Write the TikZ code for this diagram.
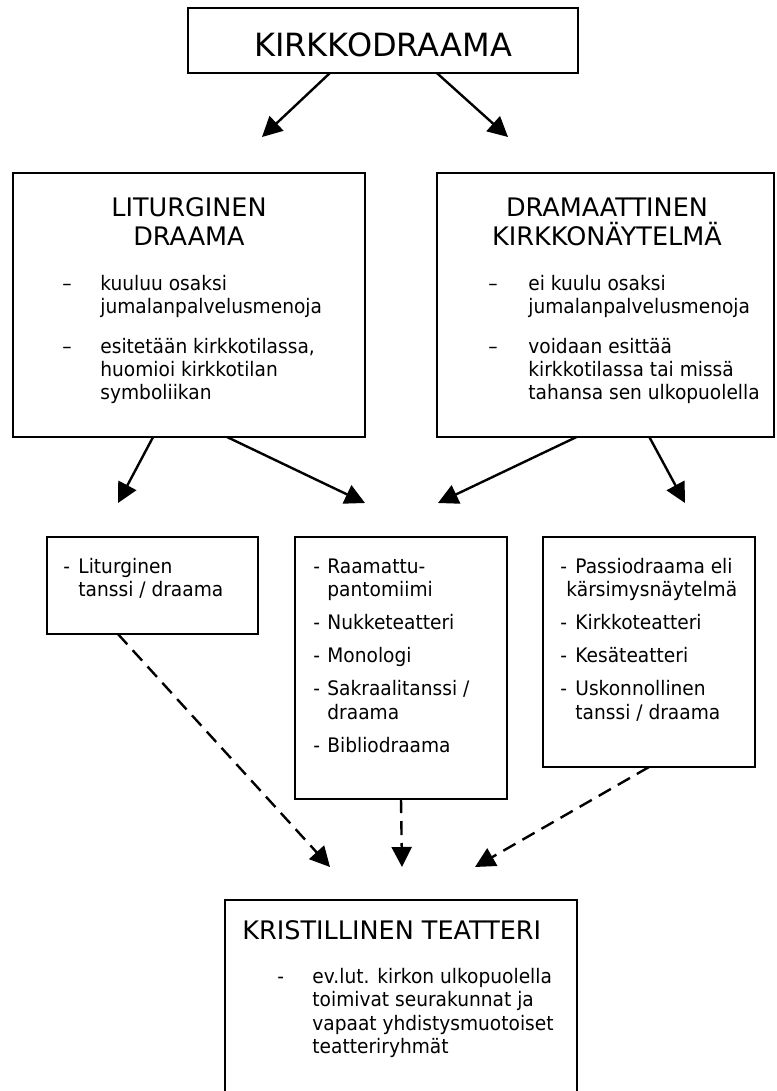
\documentclass[tikz,border=0pt]{standalone}
\usepackage{fontspec}
\setmainfont{DejaVu Sans}
\newfontfamily\bodyface[FakeStretch=0.93]{DejaVu Sans}
\usetikzlibrary{arrows.meta,calc}

\newcommand{\bodyfont}{\bodyface\fontsize{10}{11.75}\selectfont}
\newcommand{\headfont}{\fontsize{12.75}{14.25}\selectfont}

\tikzset{
  box/.style={draw, line width=1.4pt, inner sep=0pt, outer sep=0pt},
  txt/.style={inner sep=0pt, anchor=base west},
  head/.style={inner sep=0pt, anchor=base, font=\headfont},
  arr/.style={line width=1.2pt, -{Triangle[length=10pt,width=10pt]}},
  darr/.style={arr, dash pattern=on 7pt off 4pt}
}

\begin{document}
\begin{tikzpicture}[x=0.5pt,y=-0.5pt]
\useasboundingbox (0,0) rectangle (776,1091);
\clip (0,0) rectangle (776,1091);

% Boxes
\node[box, minimum width=195pt, minimum height=32.5pt] (kirkko) at (383,40.5) {};
\node[box, minimum width=176pt, minimum height=132pt] (lit) at (189,305) {};
\node[box, minimum width=168.5pt, minimum height=132pt] (dram) at (605.5,305) {};
\node[box, minimum width=105.5pt, minimum height=48.5pt] (ltanssi) at (152.5,585.5) {};
\node[box, minimum width=106pt, minimum height=131pt] (muodot) at (401,668) {};
\node[box, minimum width=106pt, minimum height=115pt] (passio) at (649,652) {};
\node[box, minimum width=176pt, minimum height=120pt] (krist) at (401,1020) {};

% Titles
\node[inner sep=0pt, anchor=base, font=\fontsize{16}{19}\selectfont] (kirkkot) at (383,57) {KIRKKODRAAMA};
\node[head] (litt1) at (189,217) {LITURGINEN};
\node[head] (litt2) at (189,245) {DRAAMA};
\node[head] (dramt1) at (607,217) {DRAMAATTINEN};
\node[head] (dramt2) at (607,245) {KIRKKONÄYTELMÄ};
\node[txt, font=\headfont] (kristt) at (242,939) {KRISTILLINEN TEATTERI};

% Lists
\node[txt] (litlist) at (62,290) {\bodyfont\begin{tabular}[t]{@{}p{19pt}@{}l@{}}
–&kuuluu osaksi\\
&jumalanpalvelusmenoja\\[8pt]
–&esitetään kirkkotilassa,\\
&huomioi kirkkotilan\\
&symboliikan
\end{tabular}};
\node[txt] (dramlist) at (488,290) {\bodyfont\begin{tabular}[t]{@{}p{20pt}@{}l@{}}
–&ei kuulu osaksi\\
&jumalanpalvelusmenoja\\[8pt]
–&voidaan esittää\\
&kirkkotilassa tai missä\\
&tahansa sen ulkopuolella
\end{tabular}};
\node[txt] (ltanssilist) at (63,573) {\bodyfont\begin{tabular}[t]{@{}p{7.5pt}@{}l@{}}
-&Liturginen\\
&tanssi / draama
\end{tabular}};
\node[txt] (muodotlist) at (313,573) {\bodyfont\begin{tabular}[t]{@{}p{7pt}@{}l@{}}
-&Raamattu-\\
&pantomiimi\\[4.75pt]
-&Nukketeatteri\\[4.75pt]
-&Monologi\\[4.75pt]
-&Sakraalitanssi /\\
&draama\\[4.75pt]
-&Bibliodraama
\end{tabular}};
\node[txt] (passiolist) at (560,573) {\bodyfont\begin{tabular}[t]{@{}p{7.5pt}@{}l@{}}
-&Passiodraama eli\\
&\hspace*{-4.5pt}kärsimysnäytelmä\\[4.75pt]
-&Kirkkoteatteri\\[4.75pt]
-&Kesäteatteri\\[4.75pt]
-&Uskonnollinen\\
&tanssi / draama
\end{tabular}};
\node[txt] (kristlist) at (277,983) {\bodyfont\begin{tabular}[t]{@{}p{17.5pt}@{}l@{}}
-&ev.lut. kirkon ulkopuolella\\
&toimivat seurakunnat ja\\
&vapaat yhdistysmuotoiset\\
&teatteriryhmät
\end{tabular}};

% Arrow tips
\coordinate (tipLit) at (262,137);
\coordinate (tipDram) at (508,137);
\coordinate (tipA) at (118,503);
\coordinate (tipBl) at (365,503);
\coordinate (tipBr) at (438,503);
\coordinate (tipC) at (685,503);
\coordinate (tipDl) at (330,867);
\coordinate (tipDm) at (402,867);
\coordinate (tipDr) at (475,867);

% Solid arrows
\draw[arr] ($(kirkko.south west)!0.364!(kirkko.south east)$) -- (tipLit);
\draw[arr] ($(kirkko.south west)!0.638!(kirkko.south east)$) -- (tipDram);
\draw[arr] ($(lit.south west)!0.398!(lit.south east)$) -- (tipA);
\draw[arr] ($(lit.south west)!0.608!(lit.south east)$) -- (tipBl);
\draw[arr] ($(dram.south west)!0.414!(dram.south east)$) -- (tipBr);
\draw[arr] ($(dram.south west)!0.630!(dram.south east)$) -- (tipC);

% Dashed arrows
\draw[darr] ($(ltanssi.south west)!0.336!(ltanssi.south east)$) -- (tipDl);
\draw[darr] (muodot.south) -- (tipDm);
\draw[darr] (passio.south) -- (tipDr);
\end{tikzpicture}
\end{document}
